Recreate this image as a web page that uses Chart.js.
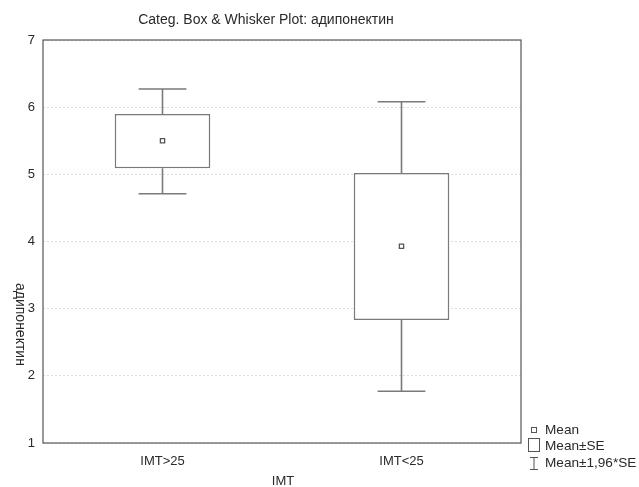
<!DOCTYPE html>
<html>
<head>
<meta charset="utf-8">
<script src="https://cdn.jsdelivr.net/npm/chart.js@4.4.1/dist/chart.umd.min.js"></script>
<style>
html,body{margin:0;padding:0;background:#fff;}
#wrap{width:639px;height:487px;position:relative;}
</style>
</head>
<body>
<div id="wrap"><canvas id="c" width="639" height="487"></canvas></div>
<script>
const categories = ["IMT>25", "IMT<25"];
const means = [5.50, 3.93];
const seLow = [5.09, 2.83];
const seHigh = [5.90, 5.02];
const ciLow = [4.71, 1.77];
const ciHigh = [6.27, 6.08];
const yTicks = [1, 2, 3, 4, 5, 6, 7];
const titleText = "Categ. Box & Whisker Plot: адипонектин";
const yTitle = "адипонектин";
const xTitle = "IMT";
const legendLabels = ["Mean", "Mean±SE", "Mean±1,96*SE"];

const FONT = "Liberation Sans, Arial, sans-serif";
const TXT = "#2a2a2a";
const LINE = "#7a7a7a";

const boxPlugin = {
  id: 'boxExtras',
  beforeDatasetsDraw(chart) {
    const ctx = chart.ctx, x = chart.scales.x, y = chart.scales.y;
    ctx.save();
    ctx.strokeStyle = LINE;
    ctx.lineWidth = 1.6;
    categories.forEach((c, i) => {
      const cx = x.getPixelForValue(i);
      const half = x.width / categories.length * 0.1;
      const yHi = y.getPixelForValue(ciHigh[i]);
      const yLo = y.getPixelForValue(ciLow[i]);
      const ySh = y.getPixelForValue(seHigh[i]);
      const ySl = y.getPixelForValue(seLow[i]);
      ctx.beginPath();
      ctx.moveTo(cx, yHi); ctx.lineTo(cx, ySh);
      ctx.moveTo(cx, ySl); ctx.lineTo(cx, yLo);
      ctx.moveTo(cx - half, yHi); ctx.lineTo(cx + half, yHi);
      ctx.moveTo(cx - half, yLo); ctx.lineTo(cx + half, yLo);
      ctx.stroke();
    });
    ctx.restore();
  },
  afterDraw(chart) {
    const ctx = chart.ctx, a = chart.chartArea;
    ctx.save();
    ctx.strokeStyle = "#555";
    ctx.lineWidth = 1.2;
    ctx.strokeRect(a.left, a.top, a.right - a.left, a.bottom - a.top);
    ctx.fillStyle = TXT;
    ctx.font = "14px " + FONT;
    ctx.textAlign = "center";
    ctx.textBaseline = "middle";
    ctx.fillText(titleText, 266, 20);
    ctx.font = "13px " + FONT;
    ctx.fillText(xTitle, 283, 481);
    ctx.save();
    ctx.font = "14px " + FONT;
    ctx.translate(20, 283);
    ctx.rotate(Math.PI / 2);
    ctx.textAlign = "left";
    ctx.fillText(yTitle, 0, 0);
    ctx.restore();
    ctx.textAlign = "left";
    ctx.font = "13.6px " + FONT;
    ctx.strokeStyle = "#555";
    ctx.lineWidth = 1;
    const lx = 534;
    ctx.strokeRect(lx - 2.5, 427.5, 5, 5);
    ctx.fillText(legendLabels[0], 545, 430);
    ctx.strokeRect(lx - 5.5, 438.5, 11, 13);
    ctx.fillText(legendLabels[1], 545, 446);
    ctx.beginPath();
    ctx.moveTo(lx - 4, 457.5); ctx.lineTo(lx + 4, 457.5);
    ctx.moveTo(lx, 457.5); ctx.lineTo(lx, 469.5);
    ctx.moveTo(lx - 4, 469.5); ctx.lineTo(lx + 4, 469.5);
    ctx.stroke();
    ctx.fillText(legendLabels[2], 545, 463);
    ctx.restore();
  }
};

new Chart(document.getElementById('c'), {
  type: 'bar',
  data: {
    labels: categories,
    datasets: [
      {
        label: 'Mean±SE',
        data: categories.map((c, i) => [seLow[i], seHigh[i]]),
        backgroundColor: 'rgba(255,255,255,1)',
        borderColor: LINE,
        borderWidth: 1.6,
        borderSkipped: false,
        categoryPercentage: 1,
        barPercentage: 0.4,
        order: 2
      },
      {
        type: 'line',
        label: 'Mean',
        data: means,
        showLine: false,
        pointStyle: 'rect',
        pointRadius: 3,
        pointBorderWidth: 1.3,
        borderColor: '#555',
        backgroundColor: '#fff',
        order: 1
      }
    ]
  },
  options: {
    responsive: false,
    animation: false,
    devicePixelRatio: 1,
    layout: { padding: { left: 0, right: 118, top: 40, bottom: 0 } },
    plugins: {
      legend: { display: false },
      title: { display: false },
      tooltip: { enabled: false }
    },
    scales: {
      x: {
        type: 'category',
        offset: true,
        grid: { display: false, drawTicks: false },
        border: { display: false },
        ticks: { color: TXT, font: { family: FONT, size: 13 }, padding: 11 },
        afterFit(s) { s.height = 44; }
      },
      y: {
        type: 'linear',
        min: 1, max: 7,
        afterBuildTicks(s) { s.ticks = yTicks.map(v => ({ value: v })); },
        grid: { color: '#dcdcdc', drawTicks: false, lineWidth: 1 },
        border: { display: false, dash: [2, 2] },
        ticks: { color: TXT, font: { family: FONT, size: 13 }, padding: 8 },
        afterFit(s) { s.width = 43; }
      }
    }
  },
  plugins: [boxPlugin]
});
</script>
</body>
</html>
